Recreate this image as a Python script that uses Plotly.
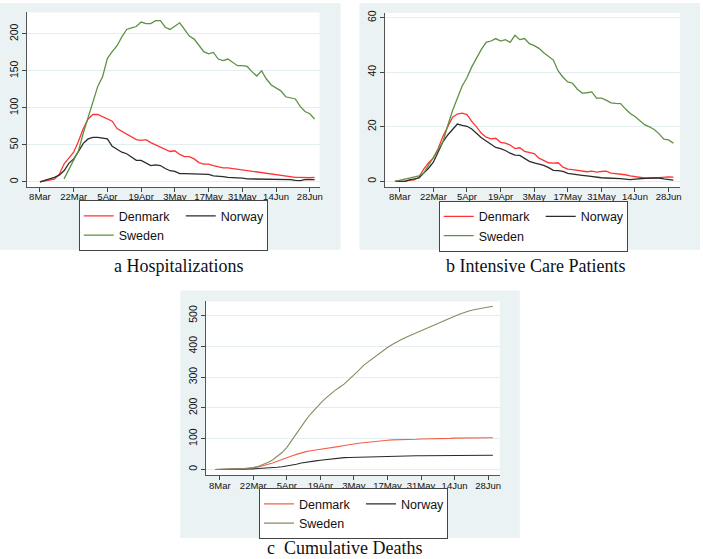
import pandas as pd
import plotly.graph_objects as go

# sampling grid (every second day)
dates_a = pd.date_range("2020-03-08", "2020-06-30", freq="2D")
dates_bc = pd.date_range("2020-03-06", "2020-06-30", freq="2D")

tick_dates = ["2020-03-08", "2020-03-22", "2020-04-05", "2020-04-19", "2020-05-03",
              "2020-05-17", "2020-05-31", "2020-06-14", "2020-06-28"]
tick_text = ["8Mar", "22Mar", "5Apr", "19Apr", "3May", "17May", "31May", "14Jun", "28Jun"]

countries = ["Denmark", "Norway", "Sweden"]
captions = ["a Hospitalizations", "b Intensive Care Patients", "c\u00a0 Cumulative Deaths"]

# a - hospitalizations
hosp_denmark = [0, 1.5, 2.5, 3.5, 10, 24, 32, 40, 55, 72, 85, 91, 91, 88, 86, 82, 72, 68, 65, 61,
                57, 56, 57, 53, 50, 48, 45, 41, 42, 37, 34, 34, 31, 26, 24, 24, 22, 20, 19, 19,
                18, 17, 17, 16, 15, 14, 13, 12, 10, 10, 9, 7, 6.5, 6, 6, 5.5, 5.5, 6]
hosp_norway = [0, 2, 3.5, 6, 9, 15, 25, 31, 41, 52, 58, 60, 60, 59, 58, 48, 44, 40, 38, 34,
               29, 29, 26, 22, 23, 22, 18, 15, 14, 11, 11, 11, 11, 11, 10, 10, 8, 8, 7, 6,
               6, 5, 5, 4, 4, 3.5, 3, 3, 3, 3, 3, 3, 3, 2, 1.5, 3, 3, 3]
hosp_sweden = [None, None, None, None, None, 4, 16, 30, 42, 66, 88, 110, 129, 142, 167, 176, 184,
               196, 206, 208, 210, 216, 214, 214, 218, 218, 209, 206, 210, 215, 206, 197, 193,
               184, 176, 173, 175, 166, 164, 166, 162, 157, 157, 156, 149, 143, 150, 139, 131,
               127, 123, 115, 114, 112, 102, 95, 92, 85]

# b - intensive care
icu_denmark = [0, 0, 0, 0.3, 0.5, 1.5, 4.5, 6.8, 8.5, 12, 16.5, 20, 23.5, 24.7, 25, 24.5, 22, 20,
               17.6, 16.2, 15.6, 15.8, 14.3, 14, 13.3, 12, 12.3, 11, 10.6, 10.2, 8.5, 7.5, 6.8,
               6.7, 6.8, 5.2, 4.5, 4.3, 4, 3.6, 3.5, 3.7, 3.4, 3.6, 3.7, 3, 2.8, 2.8, 2.4, 2,
               1.7, 1.3, 1.2, 1.1, 1.2, 1.4, 1.6, 1.6, 1.5]
icu_norway = [0, 0, 0, 0.5, 0.8, 1.2, 3, 4.8, 7, 10.8, 14.5, 17, 19.2, 21, 20.5, 20.2, 19.2, 17.5,
              16, 14.8, 13.7, 12.4, 12, 11.3, 10.3, 9.6, 9.5, 8.5, 7.3, 6.8, 6.3, 5.8, 5, 4, 3.9,
              3.6, 2.9, 2.6, 2.4, 2.2, 2, 1.7, 1.4, 1.3, 1.2, 1.2, 1.1, 1, 0.8, 0.6, 0.8, 1, 1.1,
              1.2, 1.2, 1.2, 0.9, 0.6, 0.4]
icu_sweden = [0, 0.3, 0.8, 1.2, 1.5, 2, 3, 6, 8.8, 11.5, 14.5, 20.5, 26, 30.5, 35, 38, 42, 45.2,
              48.4, 51, 51.5, 52.4, 51.5, 52, 51, 53.6, 52, 52.4, 50.5, 49.8, 48.8, 47.2, 45.8,
              44.5, 40.5, 38.2, 36.5, 36, 33.8, 32.4, 32.5, 32.8, 30.5, 30.5, 29.8, 28.8, 28.6,
              28.5, 26.6, 24.9, 23.8, 22.4, 20.8, 20, 19, 17.5, 15.5, 15.2, 14]

# c - cumulative deaths
deaths_denmark = [0, 0, 0, 0.5, 1, 1.5, 2, 3, 5, 8, 12, 16, 21, 27, 33, 40, 44, 49, 54, 58, 61,
                  63, 66, 69, 71, 73, 75, 78, 81, 83, 85, 87, 89, 91, 93, 94, 95, 96, 96, 97, 97,
                  98, 98, 99, 99, 100, 100, 101, 101, 101, 102, 102, 102, 102, 102, 103, 103,
                  103, 103]
deaths_norway = [0, 0, 0, 0.3, 0.5, 1, 1.3, 1.7, 2, 3, 3.6, 5, 6, 7.2, 9, 11, 14, 17, 21, 24, 26,
                 28, 30, 32, 34.5, 36.5, 37.5, 38.5, 39, 39.5, 40, 40, 40.5, 42, 43, 43.5, 44,
                 44, 44, 44, 44, 44, 44.5, 44.5, 44.5, 45, 45, 45, 45, 45, 45, 45.5, 45.5, 45.5,
                 45.5, 46, 46, 46, 46]
deaths_sweden = [0, 0, 0.5, 0.8, 1.2, 2, 2.8, 4, 6.5, 10, 16, 23, 31, 42, 55, 72, 95, 118, 140,
                 161, 181, 199, 215, 230, 244, 256, 267, 278, 293, 306, 322, 338, 350, 362, 372,
                 384, 396, 406, 415, 423, 430, 437, 444, 451, 458, 465, 472, 479, 486, 492, 498,
                 504, 510, 515, 519, 522, 525, 528, 530]

panels = [
    dict(dates=dates_a, series=[hosp_denmark, hosp_norway, hosp_sweden], yticks=[0, 50, 100, 150, 200]),
    dict(dates=dates_bc, series=[icu_denmark, icu_norway, icu_sweden], yticks=[0, 20, 40, 60]),
    dict(dates=dates_bc, series=[deaths_denmark, deaths_norway, deaths_sweden],
         yticks=[0, 100, 200, 300, 400, 500]),
]

W, H = 703, 559
BG = "#EAF2F3"
FONT = "Liberation Sans, Arial, sans-serif"

# layout boxes in pixels
plot_boxes = [(27, 9.5, 321, 185), (387, 10, 683, 185), (207, 300, 502, 475)]
bg_boxes = [(0, 0, 342, 248), (361, 0, 703, 248), (181, 289, 522, 538)]
x_ranges = [["2020-03-02 14:00", "2020-07-02 02:00"],
            ["2020-03-02 00:00", "2020-07-02 19:00"],
            ["2020-03-02 07:00", "2020-07-02 22:00"]]
y_ranges = [[-7, 229], [-2.1, 61.8], [-19.4, 546]]
legend_pos = [(174, 224), (535.5, 224.5), (355, 513.5)]
caption_pos = [(179.5, 264), (537.3, 264), (345.7, 548)]

colors = [["#FF3333", "#2B2B2B", "#5E9142"],
          ["#FF3333", "#2B2B2B", "#5E9142"],
          ["#F2604A", "#2B2B2B", "#858C5E"]]
widths = [1.3, 1.3, 1.1]
entry_widths = [57, 41, 57]   # left column (Denmark, Sweden) wider than Norway column

fig = go.Figure()
shapes = []
annotations = []
layout = {}

for i, p in enumerate(panels):
    sfx = "" if i == 0 else str(i + 1)
    leg = "legend" + sfx
    for j, (name, vals) in enumerate(zip(countries, p["series"])):
        fig.add_trace(go.Scatter(
            x=p["dates"], y=vals, name=name, mode="lines",
            line=dict(color=colors[i][j], width=widths[i]),
            xaxis="x" + sfx, yaxis="y" + sfx, legend=leg,
            legendgroup=f"p{i}g{1 if j == 1 else 0}", legendwidth=entry_widths[j],
        ))

    l, t, r, b = plot_boxes[i]
    layout["xaxis" + sfx] = dict(
        domain=[l / W, r / W], anchor="y" + sfx, type="date", range=x_ranges[i],
        tickvals=tick_dates, ticktext=tick_text, ticks="outside", ticklen=4,
        tickcolor="#444", showline=True, linecolor="#555", linewidth=1,
        showgrid=False, zeroline=False, ticklabelstandoff=-3,
        tickfont=dict(family=FONT, size=9.5, color="#111"),
    )
    layout["yaxis" + sfx] = dict(
        domain=[1 - b / H, 1 - t / H], anchor="x" + sfx, range=y_ranges[i],
        tickvals=p["yticks"], ticks="outside", ticklen=4, tickcolor="#444",
        showline=True, linecolor="#555", linewidth=1, tickangle=-90,
        showgrid=True, gridcolor="#E4EDEF", gridwidth=1, zeroline=False,
        tickfont=dict(family=FONT, size=10.5, color="#111"),
    )

    bl, bt, br, bb = bg_boxes[i]
    shapes.append(dict(type="rect", xref="paper", yref="paper", layer="below",
                       x0=bl / W, x1=br / W, y0=1 - bb / H, y1=1 - bt / H,
                       fillcolor=BG, line=dict(width=0)))
    shapes.append(dict(type="rect", xref="x" + sfx + " domain", yref="y" + sfx + " domain",
                       layer="below", x0=0, x1=1, y0=0, y1=1,
                       fillcolor="white", line=dict(width=0)))

    lx, ly = legend_pos[i]
    layout[leg] = dict(
        x=lx / W, y=1 - ly / H, xanchor="center", yanchor="middle",
        orientation="h", traceorder="grouped",
        bgcolor="white", bordercolor="#444", borderwidth=1,
        font=dict(family=FONT, size=12.5, color="#111"),
    )

    cx, cy = caption_pos[i]
    annotations.append(dict(text=captions[i], x=cx / W, y=1 - cy / H, xref="paper", yref="paper",
                            xanchor="center", yanchor="middle", showarrow=False,
                            font=dict(family="Liberation Serif, Times New Roman, serif",
                                      size=18, color="#111")))

fig.update_layout(
    width=W, height=H, margin=dict(l=0, r=0, t=0, b=0),
    paper_bgcolor="white", plot_bgcolor="white",
    shapes=shapes, annotations=annotations, showlegend=True, **layout,
)

# drop the page's default body margin so the figure sits at the window origin
fig.write_html("out.html", config={"displayModeBar": False},
               post_script="document.body.style.margin='0px';")
